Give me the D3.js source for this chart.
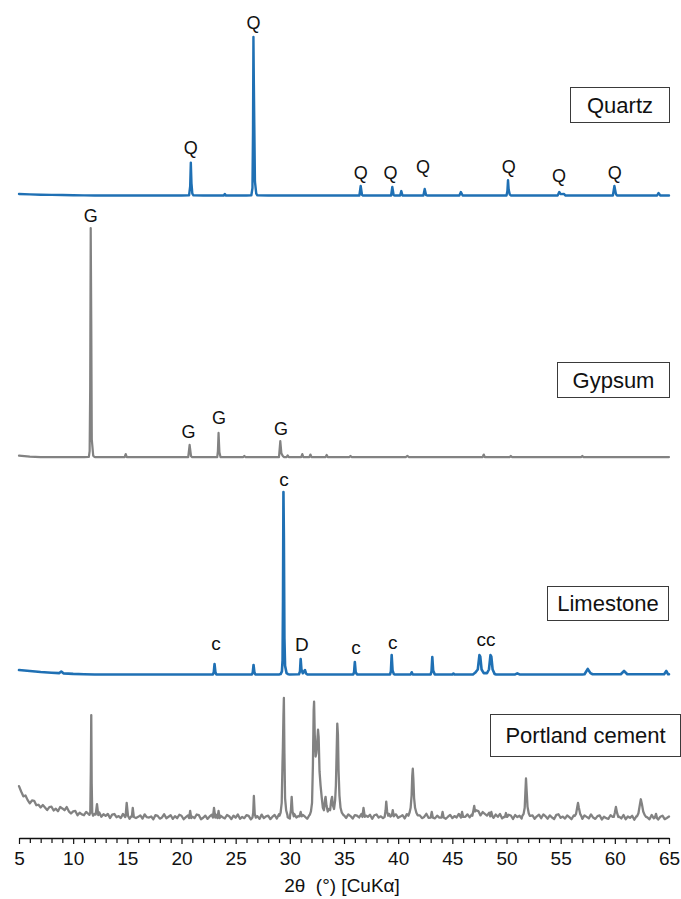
<!DOCTYPE html>
<html>
<head>
<meta charset="utf-8">
<script src="https://cdn.jsdelivr.net/npm/d3@7"></script>
<style>
  html, body { margin: 0; padding: 0; background: #fff; }
  svg { display: block; font-family: "Liberation Sans", Arial, Helvetica, sans-serif; }
</style>
</head>
<body>
<svg id="chart" width="681" height="899"></svg>
<script>
// ---- 2θ axis ----
const tickLabels = [5, 10, 15, 20, 25, 30, 35, 40, 45, 50, 55, 60, 65];
const axisTitle = "2θ  (°) [CuKα]";

// ---- Quartz: background (5–65°, 1° step) and peak profiles [2θ, I] ----
const quartzBackground = [
  1.3, 1.0, 0.8, 0.7, 0.6, 0.5, 0.4, 0.3, 0.3, 0.3,
  0.3, 0.3, 0.3, 0.3, 0.3, 0.3, 0.3, 0.3, 0.3, 0.3,
  0.3, 0.3, 0.3, 0.3, 0.3, 0.3, 0.3, 0.3, 0.3, 0.3,
  0.3, 0.3, 0.3, 0.3, 0.3, 0.3, 0.3, 0.3, 0.3, 0.3,
  0.3, 0.3, 0.3, 0.3, 0.3, 0.3, 0.3, 0.3, 0.3, 0.3,
  0.3, 0.3, 0.3, 0.3, 0.3, 0.3, 0.3, 0.3, 0.3, 0.3, 0.3
];
const quartzPeaks = [
  [[20.70, 0.4], [20.80, 6], [20.86, 21], [20.92, 8], [21.00, 1.5], [21.10, 0.4]],
  [[23.90, 0.3], [24.00, 1.3], [24.10, 0.3]],
  [[26.45, 0.5], [26.55, 5], [26.60, 40], [26.64, 100], [26.68, 70], [26.72, 45], [26.78, 9], [26.90, 1.5], [27.00, 0.4]],
  [[36.42, 0.3], [36.54, 6.3], [36.66, 0.8], [36.75, 0.3]],
  [[39.35, 0.3], [39.46, 5.7], [39.58, 0.6], [39.70, 0.3]],
  [[40.18, 0.3], [40.29, 3.1], [40.40, 0.3]],
  [[42.33, 0.3], [42.45, 4.4], [42.58, 0.5], [42.70, 0.3]],
  [[45.65, 0.3], [45.79, 2.5], [45.95, 0.3]],
  [[50.00, 0.3], [50.08, 3], [50.14, 10], [50.20, 4], [50.30, 1], [50.40, 0.3]],
  [[54.72, 0.3], [54.87, 2.5], [55.00, 1.2], [55.30, 1.3], [55.45, 0.3]],
  [[59.82, 0.3], [59.96, 6.3], [60.10, 1.2], [60.20, 0.3]],
  [[63.90, 0.3], [64.03, 1.9], [64.20, 0.3]]
];
const quartzLabels = [
  ["Q", 20.86, 26.7], ["Q", 26.64, 105.3], ["Q", 36.54, 11.0], ["Q", 39.30, 10.4],
  ["Q", 42.30, 14.2], ["Q", 50.20, 14.2], ["Q", 54.85, 9.1], ["Q", 60.00, 11.0]
];

// ---- Gypsum ----
const gypsumBackground = [
  1.0, 0.6, 0.4, 0.4, 0.4, 0.4, 0.4, 0.4, 0.4, 0.4,
  0.4, 0.4, 0.4, 0.4, 0.4, 0.4, 0.4, 0.4, 0.4, 0.4,
  0.4, 0.4, 0.4, 0.4, 0.4, 0.4, 0.4, 0.4, 0.4, 0.4,
  0.4, 0.4, 0.4, 0.4, 0.4, 0.4, 0.4, 0.4, 0.4, 0.4,
  0.4, 0.4, 0.4, 0.4, 0.4, 0.4, 0.4, 0.4, 0.4, 0.4,
  0.4, 0.4, 0.4, 0.4, 0.4, 0.4, 0.4, 0.4, 0.4, 0.4, 0.4
];
const gypsumPeaks = [
  [[11.45, 0.5], [11.52, 3], [11.57, 30], [11.62, 100], [11.67, 60], [11.72, 8], [11.85, 1], [11.95, 0.5]],
  [[14.75, 0.4], [14.85, 1.7], [14.95, 0.4]],
  [[20.62, 0.4], [20.75, 5.7], [20.88, 0.8], [20.98, 0.4]],
  [[23.30, 0.4], [23.36, 3], [23.42, 10.9], [23.50, 2.5], [23.60, 0.4]],
  [[25.70, 0.4], [25.80, 0.9], [25.90, 0.4]],
  [[29.00, 0.4], [29.12, 7.4], [29.22, 2], [29.35, 0.9], [29.45, 0.4]],
  [[29.70, 0.4], [29.80, 1.1], [29.90, 0.4]],
  [[31.05, 0.4], [31.15, 1.7], [31.25, 0.4]],
  [[31.80, 0.4], [31.90, 1.5], [32.00, 0.4]],
  [[33.30, 0.4], [33.40, 1.3], [33.50, 0.4]],
  [[35.50, 0.4], [35.60, 0.9], [35.70, 0.4]],
  [[40.70, 0.4], [40.85, 0.9], [41.00, 0.4]],
  [[47.80, 0.4], [47.90, 1.5], [48.00, 0.4]],
  [[50.30, 0.4], [50.40, 0.9], [50.50, 0.4]],
  [[56.90, 0.4], [57.00, 0.9], [57.10, 0.4]]
];
const gypsumLabels = [
  ["G", 11.62, 102.8], ["G", 20.65, 8.9], ["G", 23.46, 14.6], ["G", 29.18, 9.8]
];

// ---- Limestone ----
const limestoneBackground = [
  2.7, 2.2, 1.6, 1.2, 0.9, 0.6, 0.4, 0.3, 0.3, 0.3,
  0.3, 0.3, 0.3, 0.3, 0.3, 0.3, 0.3, 0.3, 0.3, 0.3,
  0.3, 0.3, 0.3, 0.3, 0.3, 0.3, 0.3, 0.3, 0.3, 0.3,
  0.3, 0.3, 0.3, 0.3, 0.3, 0.3, 0.3, 0.3, 0.3, 0.3,
  0.3, 0.3, 0.3, 0.3, 0.3, 0.3, 0.3, 0.3, 0.3, 0.3,
  0.3, 0.3, 0.3, 0.4, 0.4, 0.4, 0.4, 0.4, 0.4, 0.4, 0.4
];
const limestonePeaks = [
  [[8.70, 1.0], [8.90, 1.9], [9.10, 0.9]],
  [[22.90, 0.3], [22.98, 1.5], [23.05, 6], [23.13, 1.5], [23.22, 0.3]],
  [[26.50, 0.3], [26.58, 1.4], [26.65, 5.5], [26.73, 1.4], [26.82, 0.3]],
  [[29.15, 0.5], [29.27, 2], [29.33, 8], [29.37, 40], [29.41, 100], [29.45, 75], [29.50, 20], [29.56, 5], [29.70, 1], [29.85, 0.4]],
  [[30.84, 0.4], [30.94, 2], [31.00, 8.7], [31.07, 3], [31.20, 1], [31.40, 2.7], [31.50, 0.8], [31.62, 0.3]],
  [[35.85, 0.3], [35.93, 1.5], [36.00, 7.1], [36.08, 1.5], [36.20, 0.3]],
  [[39.25, 0.3], [39.33, 2], [39.40, 10.9], [39.48, 2.5], [39.60, 0.5], [39.70, 0.3]],
  [[41.15, 0.3], [41.25, 1.5], [41.35, 0.3]],
  [[43.00, 0.3], [43.08, 2], [43.15, 9.8], [43.23, 2.5], [43.38, 0.3]],
  [[45.00, 0.3], [45.10, 0.8], [45.20, 0.3]],
  [[46.90, 0.3], [47.10, 1.2], [47.35, 3], [47.50, 10.9], [47.58, 10], [47.70, 3], [47.90, 1],
   [48.20, 1], [48.38, 3], [48.52, 10.9], [48.60, 10], [48.72, 3], [48.90, 0.6], [49.05, 0.3]],
  [[50.80, 0.3], [51.00, 0.9], [51.20, 0.3]],
  [[57.20, 0.4], [57.50, 3.3], [57.75, 1], [57.95, 0.4]],
  [[60.55, 0.4], [60.85, 2.2], [61.15, 0.4]],
  [[64.55, 0.4], [64.75, 2.2], [64.92, 0.4]]
];
const limestoneLabels = [
  ["c", 23.18, 13.8], ["c", 29.45, 103.4], ["D", 31.10, 12.9], ["c", 36.10, 11.6],
  ["c", 39.50, 14.4], ["cc", 48.10, 16.0]
];

// ---- Portland cement: measured background (5–65°, 0.2° step) and peak profiles ----
const cementBackground = [
  27.8, 23.4, 19.4, 20.1, 16.3, 13.6, 16.0, 15.7, 12.1, 12.5,
  10.3, 12.3, 10.3, 8.1, 10.5, 10.9, 7.8, 9.3, 7.2, 10.6,
  9.5, 8.0, 10.6, 7.1, 5.3, 7.1, 7.4, 3.8, 5.9, 4.6,
  3.9, 6.6, 5.1, 3.0, 5.7, 5.1, 3.6, 6.3, 2.6, 4.7,
  3.4, 5.0, 1.6, 4.4, 4.9, 2.3, 3.2, 1.6, 5.0, 2.4,
  4.0, 1.0, 3.4, 4.4, 1.6, 2.6, 3.8, 1.1, 4.6, 2.3,
  2.0, 2.9, 0.6, 4.0, 3.4, 1.1, 2.1, 4.7, 1.4, 2.7,
  3.9, 0.9, 3.2, 1.5, 4.3, 3.5, 0.6, 2.3, 3.8, 1.2,
  2.8, 1.6, 4.5, 4.0, 0.6, 1.8, 3.6, 0.9, 2.9, 4.3,
  2.0, 4.3, 0.8, 3.5, 2.3, 1.3, 4.1, 3.1, 0.7, 3.6,
  1.9, 4.5, 1.0, 2.5, 1.5, 4.0, 3.4, 0.5, 3.8, 2.1,
  3.2, 0.9, 4.4, 1.6, 3.0, 3.5, 0.7, 2.7, 4.1, 1.2,
  4.8, 3.4, 1.4, 4.1, 2.3, 1.1, 4.5, 5.0, 2.1, 3.2,
  1.6, 4.2, 2.7, 1.0, 3.9, 5.2, 6.0, 6.0, 6.0, 6.0,
  6.0, 6.0, 6.0, 6.0, 6.0, 6.0, 6.0, 6.0, 6.0, 6.0,
  3.8, 1.7, 4.6, 3.2, 1.2, 4.0, 3.5, 2.1, 4.9, 1.4,
  3.7, 2.6, 4.3, 1.0, 3.9, 4.5, 2.0, 3.0, 1.5, 5.0,
  2.4, 4.1, 1.2, 3.6, 4.6, 1.8, 2.8, 4.0, 1.3, 4.8,
  2.5, 2.2, 3.3, 1.0, 4.4, 3.8, 1.5, 2.5, 5.1, 1.8,
  3.1, 4.3, 1.3, 3.6, 1.9, 4.7, 3.9, 1.0, 2.7, 4.2,
  1.6, 3.2, 2.1, 5.0, 4.5, 1.1, 2.6, 4.6, 2.2, 4.6,
  6.6, 5.5, 7.3, 3.8, 6.5, 5.0, 3.6, 6.0, 4.0, 1.8,
  4.5, 2.6, 5.0, 1.3, 2.8, 2.8, 4.3, 3.7, 0.8, 4.1,
  2.4, 3.5, 1.2, 3.0, 3.0, 3.0, 3.3, 3.8, 1.0, 3.0,
  4.4, 1.5, 4.5, 3.1, 1.1, 3.8, 2.0, 0.8, 4.2, 4.7,
  1.8, 2.8, 1.2, 3.8, 2.3, 0.6, 3.7, 4.0, 4.0, 4.0,
  0.9, 3.8, 2.6, 1.3, 4.6, 2.0, 0.9, 3.2, 3.8, 0.4,
  2.7, 1.5, 1.0, 3.9, 2.5, 3.0, 3.0, 2.8, 1.3, 4.1,
  0.6, 2.9, 1.8, 3.5, 0.2, 3.1, 4.0, 4.0, 4.0, 4.0,
  2.1, 0.6, 4.1, 1.4, 3.0, 0.4, 2.6, 3.5, 0.7, 1.7,
  2.8
];
const cementPeaks = [
  [[11.50, 4.2], [11.58, 6], [11.63, 40], [11.67, 86], [11.71, 30], [11.76, 6], [11.84, 3.6]],
  [[12.08, 4.5], [12.20, 13], [12.32, 4.0]],
  [[14.84, 3.0], [14.94, 14], [15.06, 3.5]],
  [[15.42, 2.8], [15.50, 10], [15.60, 2.5]],
  [[20.70, 1.5], [20.80, 7.4], [20.90, 1.6]],
  [[22.90, 2.0], [23.00, 10], [23.12, 2.0]],
  [[23.32, 1.5], [23.42, 7.4], [23.52, 1.5]],
  [[26.55, 2.0], [26.62, 6], [26.68, 19.7], [26.76, 5], [26.86, 2.0]],
  [[29.05, 3.5], [29.15, 6], [29.25, 14], [29.32, 45], [29.36, 60], [29.41, 85], [29.45, 100],
   [29.50, 55], [29.56, 18], [29.66, 8], [29.78, 4]],
  [[30.02, 3.5], [30.10, 8], [30.17, 19], [30.25, 7], [30.36, 3]],
  [[30.90, 3.0], [31.00, 6.6], [31.10, 3.0]],
  [[31.85, 4.5], [31.95, 7], [32.05, 14], [32.13, 45], [32.20, 90], [32.24, 97], [32.30, 70],
   [32.38, 52], [32.45, 55], [32.52, 62], [32.60, 74], [32.66, 68], [32.74, 40], [32.84, 28],
   [32.95, 18], [33.05, 10], [33.15, 8], [33.25, 17], [33.30, 19], [33.38, 12], [33.50, 7],
   [33.60, 9], [33.72, 8], [33.82, 16], [33.90, 19], [33.98, 12], [34.08, 9], [34.18, 16],
   [34.25, 28], [34.32, 55], [34.38, 79], [34.44, 70], [34.50, 40], [34.58, 20], [34.68, 10],
   [34.80, 6], [34.95, 4]],
  [[36.70, 2.5], [36.80, 10], [36.92, 2.5]],
  [[38.75, 2.6], [38.84, 8], [38.90, 15], [38.98, 7], [39.08, 3.5], [39.18, 5], [39.28, 2.8],
   [39.42, 3.8], [39.50, 8], [39.60, 3.0], [39.72, 4.4]],
  [[40.95, 3.5], [41.05, 6], [41.15, 10], [41.24, 20], [41.30, 36], [41.35, 42], [41.40, 34],
   [41.47, 18], [41.56, 10], [41.68, 6], [41.80, 3.8]],
  [[43.00, 2.0], [43.10, 6.6], [43.20, 2.0]],
  [[44.00, 2.0], [44.10, 6.6], [44.20, 2.0]],
  [[45.80, 2.0], [45.90, 6.6], [46.00, 2.5]],
  [[46.85, 3.5], [46.95, 8], [47.02, 11.5], [47.10, 7], [47.20, 8]],
  [[48.50, 3.0], [48.60, 6.6], [48.70, 3.0]],
  [[49.85, 2.5], [49.95, 5.7], [50.05, 2.5]],
  [[51.45, 3.2], [51.58, 5], [51.68, 10], [51.74, 22], [51.80, 34], [51.86, 24], [51.94, 11],
   [52.05, 5.5], [52.15, 3.4]],
  [[56.30, 3.3], [56.42, 5], [56.52, 10], [56.60, 14], [56.68, 10], [56.80, 5], [56.92, 3.0]],
  [[59.90, 2.5], [60.00, 6], [60.10, 10.7], [60.20, 6], [60.32, 2.5]],
  [[62.05, 3.0], [62.18, 5.5], [62.30, 12], [62.40, 17], [62.50, 13], [62.62, 7], [62.75, 4.2], [62.88, 2.5]],
  [[63.70, 2.0], [63.80, 5], [63.90, 1.5]]
];

// ---- layout ----
const BLUE = "#1f70b4";
const GREY = "#828282";
const svg = d3.select("#chart");
const x = d3.scaleLinear().domain([5, 65]).range([19, 669]);

// merge a sampled background with explicit peak profiles;
// background samples that fall inside a peak profile are replaced by it
function buildPattern(start, step, background, peaks) {
  const spans = peaks.map(g => [g[0][0], g[g.length - 1][0]]);
  const pts = [];
  background.forEach((v, i) => {
    const t = +(start + i * step).toFixed(3);
    if (!spans.some(([a, b]) => t >= a - 1e-6 && t <= b + 1e-6)) pts.push([t, v]);
  });
  peaks.forEach(g => g.forEach(p => pts.push(p)));
  return pts.sort((a, b) => a[0] - b[0]);
}

const panels = [
  { name: "Quartz", color: BLUE, lw: 2.4, step: 1, bg: quartzBackground, peaks: quartzPeaks,
    labels: quartzLabels, labelSize: 18, y0: 196, y1: 37, box: [570, 669, 87, 122] },
  { name: "Gypsum", color: GREY, lw: 2.2, step: 1, bg: gypsumBackground, peaks: gypsumPeaks,
    labels: gypsumLabels, labelSize: 18, y0: 458, y1: 228, box: [557, 669, 362, 397] },
  { name: "Limestone", color: BLUE, lw: 2.6, step: 1, bg: limestoneBackground, peaks: limestonePeaks,
    labels: limestoneLabels, labelSize: 19, y0: 675, y1: 492, box: [547, 668, 586, 620] },
  { name: "Portland cement", color: GREY, lw: 2.3, step: 0.2, bg: cementBackground, peaks: cementPeaks,
    labels: [], labelSize: 18, y0: 820, y1: 698, box: [490, 680, 714, 756] }
];

panels.forEach(p => {
  const y = d3.scaleLinear().domain([0, 100]).range([p.y0, p.y1]);
  const data = buildPattern(5, p.step, p.bg, p.peaks);
  const line = d3.line().x(d => x(d[0])).y(d => y(d[1]));

  svg.append("path")
    .datum(data)
    .attr("d", line)
    .attr("fill", "none")
    .attr("stroke", p.color)
    .attr("stroke-width", p.lw)
    .attr("stroke-linejoin", "round")
    .attr("stroke-linecap", "round");

  svg.append("g").selectAll("text")
    .data(p.labels)
    .join("text")
    .attr("x", d => x(d[1]))
    .attr("y", d => y(d[2]))
    .attr("text-anchor", "middle")
    .attr("font-size", p.labelSize)
    .attr("fill", "#111")
    .text(d => d[0]);

  const [bx0, bx1, by0, by1] = p.box;
  svg.append("rect")
    .attr("x", bx0 + 0.5).attr("y", by0 + 0.5)
    .attr("width", bx1 - bx0).attr("height", by1 - by0)
    .attr("fill", "#fff")
    .attr("stroke", "#3a3a3a")
    .attr("stroke-width", 1);
  svg.append("text")
    .attr("x", (bx0 + bx1) / 2 + 0.5)
    .attr("y", (by0 + by1) / 2 + 0.5)
    .attr("dy", "0.36em")
    .attr("text-anchor", "middle")
    .attr("font-size", 22)
    .attr("fill", "#111")
    .text(p.name);
});

// 2θ axis with 1° minor ticks, labelled every 5°
const axis = d3.axisBottom(x)
  .tickValues(d3.range(5, 66, 1))
  .tickSize(5)
  .tickSizeOuter(0)
  .tickPadding(9)
  .tickFormat(d => tickLabels.includes(d) ? d : "");
const gAxis = svg.append("g").attr("transform", "translate(0,838)").call(axis);
gAxis.select(".domain").attr("stroke", "#111").attr("stroke-width", 1.6);
gAxis.selectAll(".tick line").attr("stroke", "#111").attr("stroke-width", 1.2);
gAxis.selectAll(".tick line").filter(d => tickLabels.includes(d)).attr("y2", 6);
gAxis.selectAll(".tick text")
  .attr("font-size", 19)
  .attr("font-family", "'Liberation Sans', Arial, sans-serif")
  .attr("fill", "#111");

svg.append("text")
  .attr("x", 342)
  .attr("y", 892)
  .attr("text-anchor", "middle")
  .attr("font-size", 19)
  .attr("fill", "#111")
  .style("white-space", "pre")
  .text(axisTitle);
</script>
</body>
</html>
